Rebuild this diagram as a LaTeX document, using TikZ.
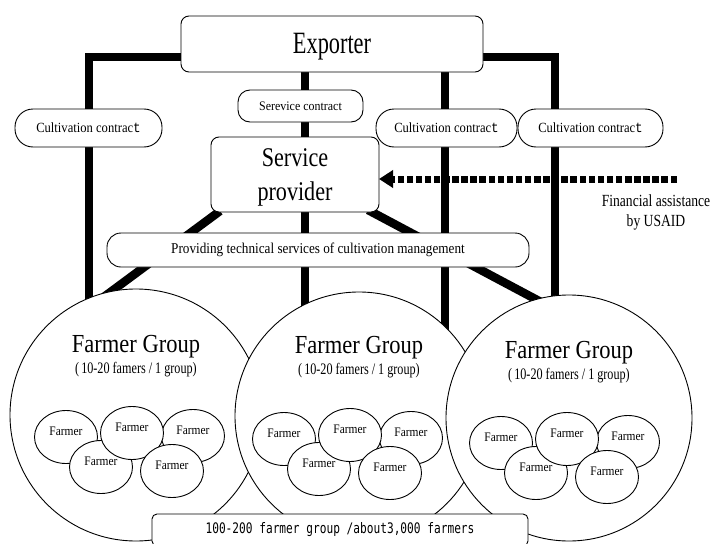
\documentclass[tikz,border=0pt]{standalone}
\usepackage{graphicx}
\usepackage{fontspec}
\setmainfont{Liberation Serif}
\newfontfamily\monoface{Liberation Mono}
\newfontfamily\gothicface{DejaVu Sans Mono}
\usetikzlibrary{arrows.meta,shapes.geometric,calc}

% horizontally condensed text
\newcommand{\cnd}[2]{\scalebox{#1}[1]{#2}}
% lower text inside its box without changing the box size
\newcommand{\lowered}[2]{\raisebox{-#1}[\height][\depth]{#2}}
% one farmer group: five overlapping farmer ellipses around anchor #2
\newcommand{\farmers}[2]{%
  \node[member] (#1a) at ($(#2)+(-66,4)$) {};
  \node[member] (#1c) at ($(#2)+(61,3)$) {};
  \node[member] (#1d) at ($(#2)+(-31,34)$) {};
  \node[member] (#1b) at (#2) {};
  \node[member] (#1e) at ($(#2)+(40,38)$) {};
  \foreach \m in {a,b,c,d,e}{
    \node[farmertext] (#1\m t) at ([yshift=6pt]#1\m.center) {\cnd{0.88}{Farmer}};
  }%
}

\pgfdeclarelayer{links}
\pgfsetlayers{links,main}

\begin{document}
\begin{tikzpicture}[x=1pt,y=-1pt,
  box/.style={draw,line width=0.9pt,fill=white,rounded corners=8pt,inner sep=0pt,outer sep=0pt},
  pill/.style={box,rounded corners=18pt,minimum height=38pt,font=\fontsize{14}{16}\selectfont},
  link/.style={line width=8.5pt,line join=miter},
  grp/.style={circle,draw,fill=white,line width=0.9pt,inner sep=0pt,outer sep=0pt},
  member/.style={ellipse,draw,fill=white,line width=0.9pt,minimum width=63pt,minimum height=53pt,inner sep=0pt},
  farmertext/.style={inner sep=0pt,font=\fontsize{13}{15}\selectfont},
  grptitle/.style={anchor=base,inner sep=0pt,font=\fontsize{26}{28}\selectfont},
  grpsub/.style={anchor=base,inner sep=0pt,font=\fontsize{16}{18}\selectfont},
  fund/.style={line width=7pt,dash pattern=on 6.5pt off 2.6pt,-{Triangle[length=14pt,width=17pt]}}
]
\useasboundingbox (0,0) rectangle (714,543);

% ---- top of the chain
\node[box,minimum width=302pt,minimum height=56pt,font=\fontsize{31}{33}\selectfont] (exporter) at (332,44) {\lowered{3pt}{\cnd{0.72}{Exporter}}};

\node[box,rounded corners=12pt,minimum width=125pt,minimum height=32pt,font=\fontsize{13}{15}\selectfont] (svccontract) at (300.5,106) {\cnd{0.92}{Serevice contract}};

\node[pill,minimum width=147pt] (cult1) at (88.5,128) {\cnd{0.9}{Cultivation contrac{\monoface t}}};
\node[pill,minimum width=141pt] (cult2) at (446.5,128) {\cnd{0.9}{Cultivation contrac{\monoface t}}};
\node[pill,minimum width=145pt] (cult3) at (590.5,128) {\cnd{0.9}{Cultivation contrac{\monoface t}}};

\node[box,minimum width=168pt,minimum height=75pt,align=center,font=\fontsize{27}{34}\selectfont] (svcprov) at (295,174.5) {\lowered{3pt}{\cnd{0.82}{Service}}\\\lowered{3pt}{\cnd{0.82}{provider}}};

\node[box,rounded corners=14pt,minimum width=422pt,minimum height=34pt,font=\fontsize{15}{17}\selectfont] (techsvc) at (318,250) {\cnd{0.88}{Providing technical services of cultivation management}};

% ---- farmer groups
\node[grp,minimum size=252pt] (grp1) at (136,415) {};
\node[grp,minimum size=248pt] (grp2) at (359,416) {};
\node[grp,minimum size=246pt] (grp3) at (569,418) {};

\foreach \g/\tshift/\sshift in {grp1/63/42, grp2/63/42, grp3/60/39}{
  \node[grptitle] (\g title) at ([yshift=\tshift pt]\g.center) {\cnd{0.865}{Farmer Group}};
  \node[grpsub] (\g sub) at ([yshift=\sshift pt]\g.center) {\cnd{0.76}{(\,10-20 famers / 1 group)}};
}

\coordinate (c1) at (132,433);
\coordinate (c2) at (350,435);
\coordinate (c3) at (567,439);
\farmers{fa}{c1}
\farmers{fb}{c2}
\farmers{fc}{c3}

\node[box,rounded corners=5pt,minimum width=376pt,minimum height=32pt,font=\gothicface\fontsize{14.5}{16}\selectfont] (total) at (340,530) {\cnd{0.77}{100-200 farmer group /about3,000 farmers}};

% ---- financial support
\coordinate (fstart) at (677,179);
\draw[fund] (fstart) -- (fstart -| svcprov.east);
\node[align=center,inner sep=0pt,font=\fontsize{17}{20}\selectfont] (fintext) at (656,212) {\cnd{0.8}{Financial assistance}\\\cnd{0.8}{by USAID}};

% ---- contract and service links, behind the boxes
\coordinate (lx) at (89,360);
\coordinate (rx) at (555,360);
\coordinate (sx) at (305,0);
\coordinate (tx) at (445,0);
\coordinate (dl) at (97,302);
\coordinate (dr) at (556,310);
\begin{pgfonlayer}{links}
  \draw[link] ([yshift=-13pt]exporter.west) -| (lx);
  \draw[link] ([yshift=-13pt]exporter.east) -| (rx);
  \draw[link] (exporter.south -| sx) -- (sx |- grp2.center);
  \draw[link] (exporter.south -| tx) -- (tx |- grp2.center);
  \draw[link] ([shift={(9pt,1pt)}]svcprov.south west) -- (dl);
  \draw[link] ([shift={(-11pt,2pt)}]svcprov.south east) -- (dr);
\end{pgfonlayer}
\end{tikzpicture}
\end{document}
